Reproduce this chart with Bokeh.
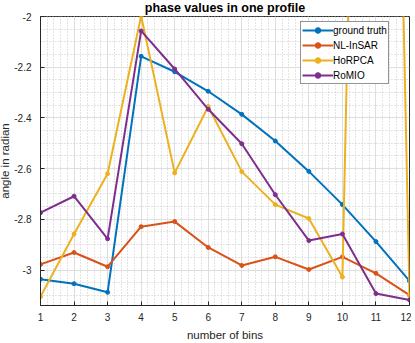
from bokeh.plotting import figure
from bokeh.models import FixedTicker, Range1d, Legend, LegendItem
from bokeh.embed import file_html
from bokeh.resources import INLINE

bins = [1, 2, 3, 4, 5, 6, 7, 8, 9, 10, 11, 12]
ground_truth = [-3.036, -3.054, -3.088, -2.157, -2.218, -2.295, -2.386, -2.491, -2.611, -2.742, -2.888, -3.043]
nl_insar = [-2.978, -2.931, -2.987, -2.829, -2.809, -2.911, -2.982, -2.948, -2.998, -2.948, -3.013, -3.099]
horpca = [-3.105, -2.858, -2.620, -1.998, -2.617, -2.355, -2.612, -2.742, -2.797, -3.028, 3.1, -3.100]
romio = [-2.774, -2.709, -2.877, -2.057, -2.207, -2.366, -2.502, -2.703, -2.884, -2.858, -3.093, -3.118]

series_names = ["ground truth", "NL-InSAR", "HoRPCA", "RoMIO"]
series_colors = ["#0072BD", "#D95319", "#EDB120", "#7E2F8E"]

y_ticks = [-3.0, -2.8, -2.6, -2.4, -2.2, -2.0]
y_tick_labels = ["-3", "-2.8", "-2.6", "-2.4", "-2.2", "-2"]

FONT = "Liberation Sans"
AX = "#262626"

p = figure(width=415, height=347, output_backend="svg", toolbar_location=None,
           x_range=Range1d(1, 12), y_range=Range1d(-3.14, -2.0),
           title="phase values in one profile",
           min_border_left=36, min_border_right=2, min_border_bottom=35, min_border_top=20,
           margin=(-4, 0, 0, -4))

p.title.align = "center"
p.title.text_font = FONT
p.title.text_font_size = "12.5px"
p.title.text_font_style = "bold"
p.title.text_color = "#000000"
p.title.standoff = 3
p.title.offset = 0

p.xaxis.ticker = FixedTicker(ticks=bins, minor_ticks=[1 + i * 0.2 for i in range(56)])
p.yaxis.ticker = FixedTicker(ticks=y_ticks, minor_ticks=[-3.15 + i * 0.05 for i in range(24)])
p.yaxis.major_label_overrides = {t: l for t, l in zip(y_ticks, y_tick_labels)}

for ax in (p.xaxis, p.yaxis):
    ax.axis_line_color = AX
    ax.major_tick_line_color = AX
    ax.major_tick_in = 4
    ax.major_tick_out = 0
    ax.minor_tick_line_color = None
    ax.major_label_text_font = FONT
    ax.major_label_text_font_size = "10px"
    ax.major_label_text_color = AX
    ax.axis_label_text_font = FONT
    ax.axis_label_text_font_size = "11.5px"
    ax.axis_label_text_font_style = "normal"
    ax.axis_label_text_color = AX

p.xaxis.axis_label = "number of bins"
p.yaxis.axis_label = "angle in radian"
p.xaxis.major_label_standoff = 3
p.xaxis.axis_label_standoff = 5
p.yaxis.major_label_standoff = 5
p.yaxis.axis_label_standoff = 0

p.outline_line_color = AX
p.outline_line_width = 1

for g in (p.xgrid, p.ygrid):
    g.grid_line_color = "#dedede"
    g.grid_line_width = 1
    g.minor_grid_line_color = "#c8c8c8"
    g.minor_grid_line_dash = "1 2"
    g.minor_grid_line_width = 1

items = []
for name, col, vals in zip(series_names, series_colors, [ground_truth, nl_insar, horpca, romio]):
    ln = p.line(bins, vals, line_color=col, line_width=2)
    sc = p.scatter(bins, vals, size=4, fill_color=col, line_color=col)
    items.append(LegendItem(label=name, renderers=[ln, sc]))

leg = Legend(items=items, location=(260, 221))
leg.label_text_font = FONT
leg.label_text_font_size = "10px"
leg.label_text_color = "#000000"
leg.glyph_width = 31
leg.glyph_height = 14
leg.spacing = 1
leg.padding = 1
leg.margin = 0
leg.label_standoff = 0
leg.label_height = 14
leg.border_line_color = "#262626"
leg.border_line_width = 1
leg.background_fill_color = "white"
leg.background_fill_alpha = 1
p.add_layout(leg)

open("out.html", "w").write(file_html(p, INLINE))
